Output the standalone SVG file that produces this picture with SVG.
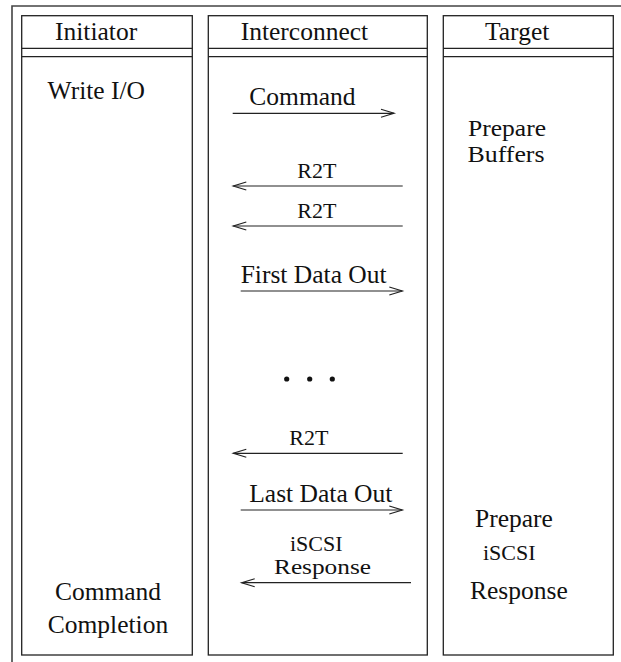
<svg xmlns="http://www.w3.org/2000/svg" width="621" height="662" viewBox="0 0 621 662">
<defs>
<style>
.frame{fill:none;stroke:#444;stroke-width:1.6}
.box{fill:none;stroke:#222;stroke-width:1.3}
.sep{stroke:#222;stroke-width:1.3}
.t{font-family:"Liberation Serif","Times New Roman",serif;font-size:25.5px;fill:#111}
.m{font-family:"Liberation Serif","Times New Roman",serif;font-size:24px;fill:#111}
.s{font-family:"Liberation Serif","Times New Roman",serif;font-size:22px;fill:#111}
.arr{stroke:#222;stroke-width:1.2;fill:none;marker-end:url(#ah)}
</style>
<marker id="ah" markerUnits="userSpaceOnUse" orient="auto" overflow="visible" markerWidth="1" markerHeight="1" refX="0" refY="0">
<path d="M-13,-4 L0,0 L-13,4" fill="none" stroke="#222" stroke-width="1.2"/>
</marker>
</defs>
<rect width="621" height="662" fill="#fff"/>
<path class="frame" d="M12,662 V6 H621"/>

<g id="initiator">
<rect class="box" x="21.7" y="15.7" width="170.6" height="639.3"/>
<line class="sep" x1="21.7" y1="48.3" x2="192.3" y2="48.3"/>
<line class="sep" x1="21.7" y1="56.7" x2="192.3" y2="56.7"/>
<text class="t" x="55" y="40">Initiator</text>
<text class="t" x="47.6" y="99">Write I/O</text>
<text class="t" x="108" y="600" text-anchor="middle">Command</text>
<text class="t" x="108" y="633" text-anchor="middle">Completion</text>
</g>

<g id="interconnect">
<rect class="box" x="208.3" y="15.7" width="219" height="639.3"/>
<line class="sep" x1="208.3" y1="48.3" x2="427.3" y2="48.3"/>
<line class="sep" x1="208.3" y1="56.7" x2="427.3" y2="56.7"/>
<text class="t" x="240.7" y="40">Interconnect</text>
<text class="t" x="249.3" y="105">Command</text>
<text class="s" x="297.3" y="178">R2T</text>
<text class="s" x="297.3" y="218">R2T</text>
<text class="t" x="240.7" y="283">First Data Out</text>
<circle cx="286.7" cy="379" r="2.6" fill="#111"/>
<circle cx="309.7" cy="379" r="2.6" fill="#111"/>
<circle cx="332.3" cy="379" r="2.6" fill="#111"/>
<text class="s" x="289.3" y="445">R2T</text>
<text class="t" x="249.3" y="502">Last Data Out</text>
<text class="s" x="290" y="551">iSCSI</text>
<text class="s" x="274" y="574" textLength="97" lengthAdjust="spacingAndGlyphs">Response</text>
</g>

<g id="target">
<rect class="box" x="443.3" y="15.7" width="170" height="639.3"/>
<line class="sep" x1="443.3" y1="48.3" x2="613.3" y2="48.3"/>
<line class="sep" x1="443.3" y1="56.7" x2="613.3" y2="56.7"/>
<text class="t" x="485" y="40">Target</text>
<text class="m" x="468" y="135.5" textLength="78" lengthAdjust="spacingAndGlyphs">Prepare</text>
<text class="m" x="467.5" y="162" textLength="77" lengthAdjust="spacingAndGlyphs">Buffers</text>
<text class="t" x="475" y="527">Prepare</text>
<text class="s" x="483" y="560">iSCSI</text>
<text class="t" x="470" y="599">Response</text>
</g>

<g id="connectors">
<line class="arr" x1="232.7" y1="113.3" x2="394" y2="113.3"/>
<line class="arr" x1="402.7" y1="186" x2="233.3" y2="186"/>
<line class="arr" x1="402.7" y1="226" x2="233.3" y2="226"/>
<line class="arr" x1="240.7" y1="291" x2="402.3" y2="291"/>
<line class="arr" x1="402.7" y1="453.3" x2="233.3" y2="453.3"/>
<line class="arr" x1="240.7" y1="510" x2="402.3" y2="510"/>
<line class="arr" x1="411" y1="582.7" x2="241.7" y2="582.7"/>
</g>
</svg>
